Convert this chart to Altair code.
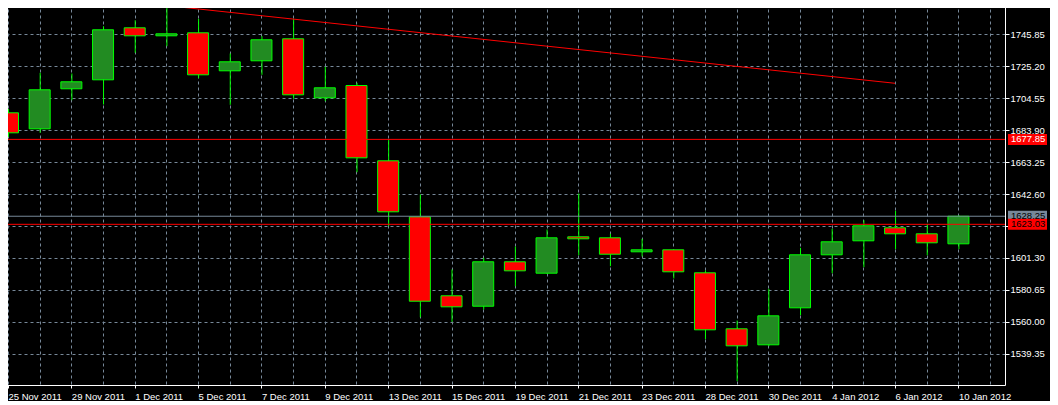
import json
import altair as alt
import pandas as pd

# ---------------- data ----------------
dates = ["25 Nov 2011", "28 Nov 2011", "29 Nov 2011", "30 Nov 2011", "1 Dec 2011", "2 Dec 2011",
         "5 Dec 2011", "6 Dec 2011", "7 Dec 2011", "8 Dec 2011", "9 Dec 2011", "12 Dec 2011",
         "13 Dec 2011", "14 Dec 2011", "15 Dec 2011", "16 Dec 2011", "19 Dec 2011", "20 Dec 2011",
         "21 Dec 2011", "22 Dec 2011", "23 Dec 2011", "27 Dec 2011", "28 Dec 2011", "29 Dec 2011",
         "30 Dec 2011", "3 Jan 2012", "4 Jan 2012", "5 Jan 2012", "6 Jan 2012", "9 Jan 2012",
         "10 Jan 2012"]
opens = [1695.00, 1684.67, 1710.49, 1716.29, 1749.85, 1744.69, 1746.62, 1722.10, 1728.56, 1742.75,
         1704.68, 1712.61, 1664.02, 1627.88, 1576.91, 1570.19, 1598.85, 1591.49, 1614.98, 1614.33,
         1605.30, 1606.59, 1591.74, 1555.61, 1545.28, 1569.16, 1603.36, 1612.40, 1620.79, 1616.91,
         1610.46]
highs = [1697.50, 1720.81, 1720.36, 1750.88, 1754.76, 1763.79, 1755.66, 1733.27, 1744.43, 1755.66,
         1724.68, 1714.36, 1677.77, 1642.27, 1593.87, 1601.43, 1608.72, 1619.69, 1642.92, 1616.91,
         1613.69, 1606.80, 1593.23, 1560.96, 1581.43, 1607.88, 1620.14, 1625.69, 1631.76, 1623.37,
         1628.72]
lows = [1679.50, 1682.09, 1703.13, 1700.35, 1733.72, 1737.98, 1717.33, 1700.16, 1719.52, 1704.03,
        1702.48, 1656.67, 1621.82, 1563.09, 1560.12, 1568.06, 1583.10, 1591.00, 1603.10, 1596.01,
        1602.26, 1588.07, 1548.90, 1521.80, 1544.37, 1564.38, 1591.49, 1595.36, 1606.98, 1603.10,
        1606.98]
closes = [1682.09, 1709.84, 1715.00, 1748.56, 1744.69, 1745.98, 1719.52, 1727.91, 1742.11, 1706.61,
          1711.13, 1665.96, 1631.11, 1573.42, 1569.80, 1598.85, 1593.03, 1614.33, 1613.69, 1603.75,
          1606.59, 1592.39, 1554.96, 1544.63, 1563.99, 1603.36, 1611.75, 1622.08, 1616.91, 1611.11,
          1628.25]

price_ticks = [1539.35, 1560.00, 1580.65, 1601.30, 1621.95, 1642.60, 1663.25, 1683.90,
               1704.55, 1725.20, 1745.85]
hidden_price_tick = 1621.95
grid_slots = list(range(32))

level_prices = [1677.85, 1628.25, 1623.03]
level_colors = ["#FF0000", "#778899", "#FF0000"]
level_text_colors = ["#FFFFFF", "#000000", "#000000"]

trend_slots = [4.33, 28.0]
trend_prices = [1765.66, 1714.04]

x_domain = [0, 31.3125]
y_domain = [1519.345, 1765.855]

# ---------------- tables ----------------
candles = pd.DataFrame({"i": list(range(len(dates))), "date": dates, "open": opens,
                        "high": highs, "low": lows, "close": closes})
levels = pd.DataFrame({"price": level_prices, "color": level_colors, "tcolor": level_text_colors})
trend = pd.DataFrame({"i": trend_slots, "price": trend_prices})

label_list = [d if k % 2 == 0 else "" for k, d in enumerate(dates)]
x_label_expr = json.dumps(label_list) + "[round(datum.value)] || ''"

FONT = "Liberation Sans"
FS = 9.5

xs = alt.Scale(domain=x_domain, nice=False, zero=False)
ys = alt.Scale(domain=y_domain, nice=False, zero=False)

x_axis = alt.Axis(values=grid_slots, grid=True, title=None, orient="bottom",
                  labelExpr=x_label_expr, labelOverlap=False, labelFlush=False,
                  labelAlign="left", labelPadding=3, tickSize=3,
                  tickOpacity={"condition": {"test": "round(datum.value) % 2 == 1", "value": 0},
                               "value": 1})
y_axis = alt.Axis(values=price_ticks, grid=True, title=None, orient="right", format=".2f",
                  labelExpr=f"abs(datum.value - {hidden_price_tick}) < 0.001 ? '' : format(datum.value, '.2f')",
                  labelOverlap=False, labelFlush=False, tickSize=4, labelPadding=1,
                  labelBaseline="middle")

X = lambda f: alt.X(f, scale=xs, axis=x_axis)
Y = lambda f: alt.Y(f, scale=ys, axis=y_axis)

base = alt.Chart(candles)

wicks = base.mark_rule(color="#00FF00", strokeWidth=1, xOffset=0.5).encode(
    x=X("i:Q"), y=Y("low:Q"), y2="high:Q",
)

bodies = base.mark_bar(size=21, stroke="#00FF00", strokeWidth=1).encode(
    x=X("i:Q"), y=Y("open:Q"), y2="close:Q",
    color=alt.condition("datum.close >= datum.open", alt.value("#228B22"), alt.value("#FF0000")),
)

level_lines = alt.Chart(levels).mark_rule(strokeWidth=1).encode(
    y=Y("price:Q"),
    color=alt.Color("color:N", scale=None),
)

trend_line = alt.Chart(trend).mark_line(color="#FF0000", strokeWidth=1, clip=True).encode(
    x=X("i:Q"), y=Y("price:Q"),
)

level_boxes = alt.Chart(levels).mark_rule(strokeWidth=11, strokeCap="butt").encode(
    x=alt.value(1005), x2=alt.value(1044),
    y=Y("price:Q"),
    color=alt.Color("color:N", scale=None),
)

level_texts = alt.Chart(levels).mark_text(align="left", baseline="middle", font=FONT,
                                          fontSize=FS).encode(
    x=alt.value(1008),
    y=Y("price:Q"),
    text=alt.Text("price:Q", format=".2f"),
    color=alt.Color("tcolor:N", scale=None),
)

chart = alt.layer(wicks, bodies, level_lines, trend_line, level_boxes, level_texts).properties(
    width=1002, height=382, background="black",
    padding={"left": -5, "top": -5, "right": 45, "bottom": 16},
    autosize=alt.AutoSizeParams(type="none"),
).configure_view(stroke=None).configure_axis(
    domainColor="white", tickColor="white", labelColor="white",
    gridColor="#778899", gridDash=[3, 3], gridWidth=1,
    labelFont=FONT, labelFontSize=FS,
)

chart.save("out.html", embed_options={"renderer": "svg", "actions": False})
